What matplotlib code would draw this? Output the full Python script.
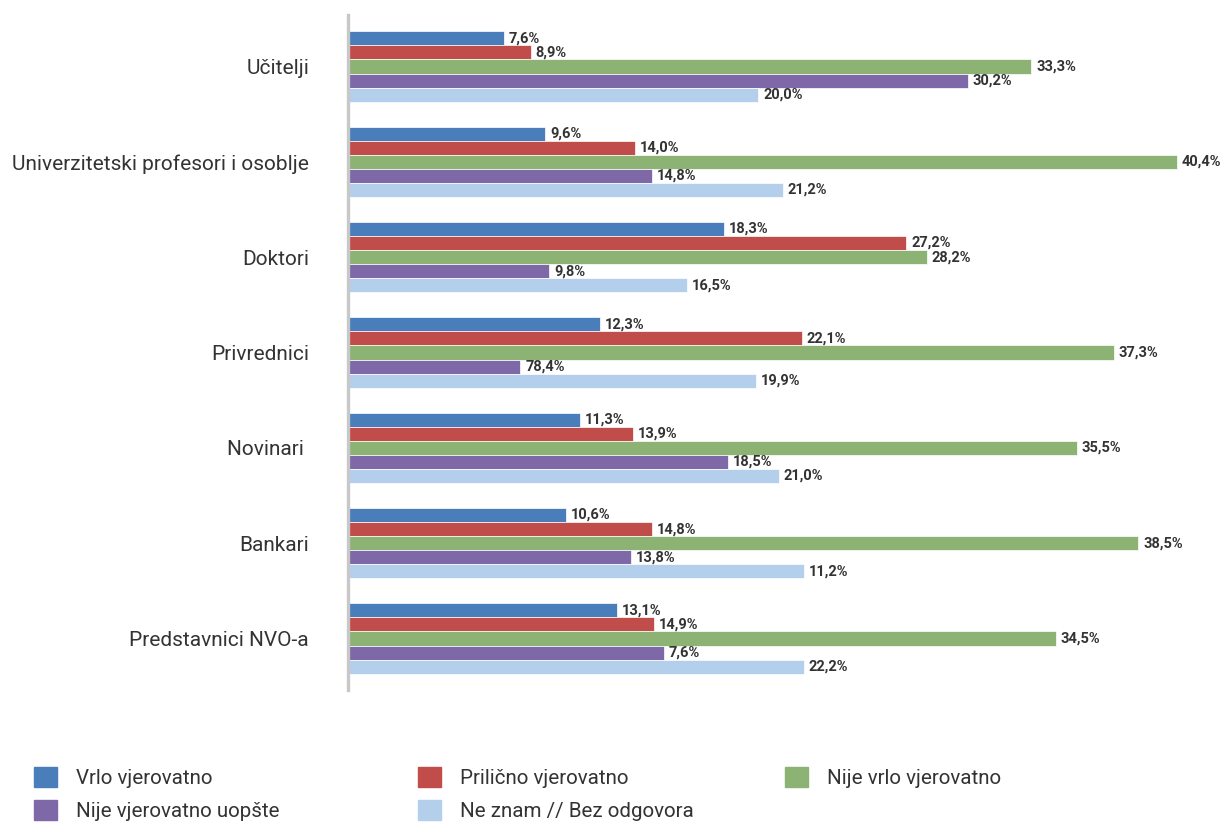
import matplotlib
matplotlib.use("Agg")
import matplotlib.pyplot as plt
import matplotlib.patches as mpatches
import numpy as np

plt.rcParams["font.family"] = ["Roboto", "DejaVu Sans"]

categories = [
    "Učitelji",
    "Univerzitetski profesori i osoblje",
    "Doktori",
    "Privrednici",
    "Novinari ",
    "Bankari",
    "Predstavnici NVO-a",
]
series = [
    "Vrlo vjerovatno",
    "Prilično vjerovatno",
    "Nije vrlo vjerovatno",
    "Nije vjerovatno uopšte",
    "Ne znam // Bez odgovora",
]
colors = ["#4a7ebb", "#c14d4a", "#8cb374", "#7e68a7", "#b3cfeb"]

# bar lengths as drawn in the chart
vrlo = [7.6, 9.6, 18.3, 12.3, 11.3, 10.6, 13.1]
prilicno = [8.9, 14.0, 27.2, 22.1, 13.9, 14.8, 14.9]
nije_vrlo = [33.3, 40.4, 28.2, 37.3, 35.5, 38.5, 34.5]
nije_uopste = [30.2, 14.8, 9.8, 8.4, 18.5, 13.8, 15.4]
ne_znam = [20.0, 21.2, 16.5, 19.9, 21.0, 22.2, 22.2]

# value labels as printed in the chart
lbl_vrlo = ["7,6%", "9,6%", "18,3%", "12,3%", "11,3%", "10,6%", "13,1%"]
lbl_prilicno = ["8,9%", "14,0%", "27,2%", "22,1%", "13,9%", "14,8%", "14,9%"]
lbl_nije_vrlo = ["33,3%", "40,4%", "28,2%", "37,3%", "35,5%", "38,5%", "34,5%"]
lbl_nije_uopste = ["30,2%", "14,8%", "9,8%", "78,4%", "18,5%", "13,8%", "7,6%"]
lbl_ne_znam = ["20,0%", "21,2%", "16,5%", "19,9%", "21,0%", "11,2%", "22,2%"]

values = [vrlo, prilicno, nije_vrlo, nije_uopste, ne_znam]
labels = [lbl_vrlo, lbl_prilicno, lbl_nije_vrlo, lbl_nije_uopste, lbl_ne_znam]

W, H = 1225, 823
fig = plt.figure(figsize=(W / 100, H / 100), dpi=100)
ax = fig.add_axes([348 / W, (H - 690) / H, (1220 - 348) / W, (690 - 15) / H])

y = np.arange(len(categories))
h = 0.148
for i, (vals, lbls) in enumerate(zip(values, labels)):
    pos = y + (i - 2) * h
    ax.barh(pos, vals, height=h, color=colors[i], edgecolor="white", linewidth=0.5)
    for p, v, t in zip(pos, vals, lbls):
        ax.annotate(t, (v, p), xytext=(3.5, 0), textcoords="offset points",
                    va="center", ha="left", fontsize=10.5, fontweight="bold",
                    color="#333333", annotation_clip=False)

ax.set_xlim(0, (1220 - 349) / 20.5)
ax.set_ylim(6.54, -0.54)
ax.set_yticks(y)
ax.set_yticklabels(categories, fontsize=15, color="#333333")
ax.tick_params(axis="y", length=0, pad=28)
ax.set_xticks([])
for s in ["top", "right", "bottom"]:
    ax.spines[s].set_visible(False)
ax.spines["left"].set_color("#c8c8c8")
ax.spines["left"].set_linewidth(2.4)

# legend in three columns, filled row by row
cols = [[0, 3], [1, 4], [2]]
xs = [34, 418, 785]
for col, x0 in zip(cols, xs):
    handles = [mpatches.Patch(color=colors[k], label=series[k]) for k in col]
    fig.legend(handles=handles, loc="upper left",
               bbox_to_anchor=(x0 / W, (H - 767) / H), frameon=False,
               fontsize=14.8, handlelength=1.12, handleheight=1.12,
               handletextpad=0.93, labelspacing=0.6, borderpad=0,
               borderaxespad=0, labelcolor="#333333")

fig.savefig("out.png", dpi=100)
